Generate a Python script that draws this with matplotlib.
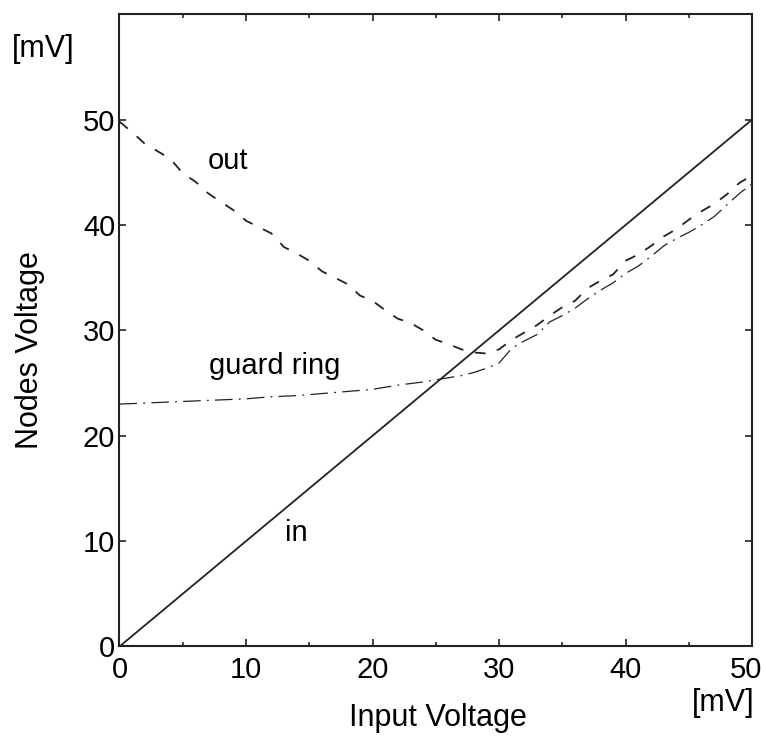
import numpy as np
import matplotlib
matplotlib.use('Agg')
import matplotlib.pyplot as plt
from matplotlib.ticker import MultipleLocator
from matplotlib.transforms import ScaledTranslation

plt.rcParams['font.family'] = ['Liberation Sans', 'DejaVu Sans']

# datos
x_in = [0, 50]
y_in = [0, 50]

x_out = list(range(0, 51))
y_out = [49.8, 48.8, 47.7, 47.0, 46.3, 44.9, 44.1, 43.0, 42.2, 41.4,
         40.4, 39.8, 39.2, 37.9, 37.3, 36.6, 35.6, 35.0, 34.4, 33.3,
         32.8, 31.9, 31.1, 30.7, 30.0, 29.1, 28.7, 28.2, 27.9, 27.8,
         28.2, 29.1, 29.8, 30.5, 31.4, 32.2, 32.8, 34.0, 34.7, 35.3,
         36.6, 37.2, 38.0, 38.9, 39.6, 40.5, 41.3, 42.0, 42.9, 44.0,
         44.7]

x_guard = [0, 2, 4, 6, 8, 10, 12, 14, 16, 18, 20, 22, 24, 25, 26, 27, 28,
           29, 30, 31, 32, 33, 34, 35, 36, 37, 38, 39, 40, 41, 42, 43, 44,
           45, 46, 47, 48, 49, 50]
y_guard = [23.0, 23.1, 23.2, 23.3, 23.4, 23.5, 23.7, 23.8, 24.0, 24.2,
           24.4, 24.8, 25.1, 25.3, 25.5, 25.7, 26.0, 26.4, 26.9, 28.3,
           29.0, 29.6, 30.8, 31.4, 32.1, 33.0, 33.8, 34.5, 35.4, 36.1,
           37.0, 38.0, 38.7, 39.3, 40.0, 40.8, 41.9, 43.0, 43.9]

xticks = [0, 10, 20, 30, 40, 50]
yticks = [0, 10, 20, 30, 40, 50]

fig = plt.figure(figsize=(7.66, 7.37), dpi=100)
ax = fig.add_axes([0.156, 0.1228, 0.826, 0.858])

ax.plot(x_in, y_in, color='#222222', lw=1.3)
ax.plot(x_out, y_out, color='#222222', lw=1.3, linestyle=(0, (6, 6.5)))
ax.plot(x_guard, y_guard, color='#222222', lw=0.9, linestyle=(0, (14, 5, 1.5, 5)))

ax.text(8.6, 46.1, 'out', fontsize=21, ha='center', va='center')
ax.text(12.3, 26.6, 'guard ring', fontsize=21, ha='center', va='center')
ax.text(14.0, 10.8, 'in', fontsize=21, ha='center', va='center')

ax.set_xlim(0, 50)
ax.set_ylim(0, 60)
ax.set_xticks(xticks)
ax.xaxis.set_minor_locator(MultipleLocator(5))
ax.set_yticks(yticks)

ax.tick_params(which='both', direction='in', top=True, right=True,
               labelsize=21, color='#222222', width=1.2)
ax.tick_params(which='major', length=5)
ax.tick_params(which='minor', length=3)
ax.tick_params(axis='x', pad=7)
ax.tick_params(axis='y', pad=3)
for s in ax.spines.values():
    s.set_linewidth(1.5)
    s.set_color('#222222')

# el ultimo rotulo del eje x va un poco a la izquierda, como en el original
last = ax.get_xticklabels()[-1]
last.set_transform(last.get_transform() + ScaledTranslation(-0.06, 0, fig.dpi_scale_trans))

fig.text(0.572, 0.026, 'Input Voltage', fontsize=22, ha='center', va='center')
fig.text(0.039, 0.525, 'Nodes Voltage', fontsize=22, ha='center', va='center',
         rotation=90)

fig.text(0.944, 0.046, '[mV]', fontsize=22, ha='center', va='center')
fig.text(0.056, 0.934, '[mV]', fontsize=22, ha='center', va='center')

plt.savefig('out.png', dpi=100)
